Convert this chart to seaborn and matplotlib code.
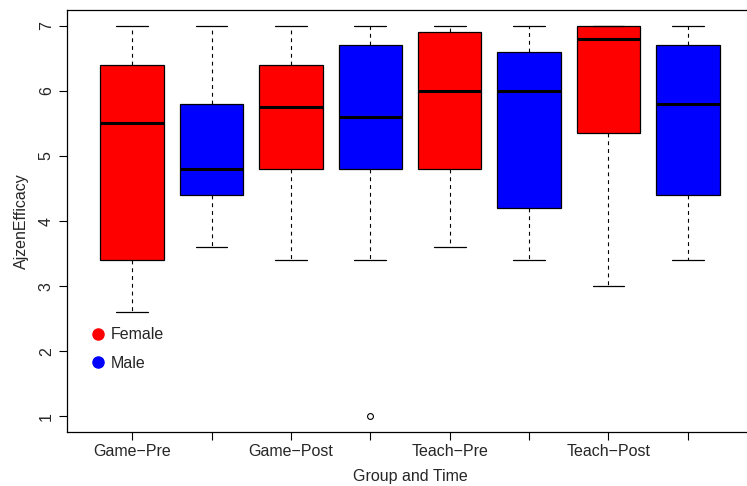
import numpy as np
import matplotlib
matplotlib.use("Agg")
import matplotlib.pyplot as plt
import seaborn as sns
from matplotlib.lines import Line2D

# ---- data ----
groups = ["Game−Pre", "Game−Pre", "Game−Post", "Game−Post",
          "Teach−Pre", "Teach−Pre", "Teach−Post", "Teach−Post"]
genders = ["Female", "Male", "Female", "Male", "Female", "Male", "Female", "Male"]
whisker_low = [2.6, 3.6, 3.4, 3.4, 3.6, 3.4, 3.0, 3.4]
q1 = [3.4, 4.4, 4.8, 4.8, 4.8, 4.2, 5.35, 4.4]
median = [5.5, 4.8, 5.75, 5.6, 6.0, 6.0, 6.8, 5.8]
q3 = [6.4, 5.8, 6.4, 6.7, 6.9, 6.6, 7.0, 6.7]
whisker_high = [7.0, 7.0, 7.0, 7.0, 7.0, 7.0, 7.0, 7.0]
outliers = [[], [], [], [1.0], [], [], [], []]
tick_labels = ["Game−Pre", "", "Game−Post", "", "Teach−Pre", "", "Teach−Post", ""]
y_ticks = [1, 2, 3, 4, 5, 6, 7]
gender_colors = {"Female": "#FF0000", "Male": "#0000FF"}

sns.set_style("white")
plt.rcParams["font.family"] = ["Liberation Sans", "DejaVu Sans"]

fig = plt.figure(figsize=(7.47, 4.86), dpi=100)
ax = fig.add_axes([67 / 747, 54 / 486, 686 / 747, 422 / 486])

stats = []
for i in range(len(groups)):
    stats.append(dict(med=median[i], q1=q1[i], q3=q3[i],
                      whislo=whisker_low[i], whishi=whisker_high[i],
                      fliers=np.array(outliers[i]), label=tick_labels[i]))

positions = np.arange(1, len(groups) + 1)
bp = ax.bxp(stats, positions=positions, widths=0.8, capwidths=0.4,
            patch_artist=True, showfliers=True,
            boxprops=dict(edgecolor="black", linewidth=0.9),
            medianprops=dict(color="black", linewidth=2.2, solid_capstyle="butt"),
            whiskerprops=dict(color="black", linewidth=0.8, linestyle=(0, (3.5, 3.5))),
            capprops=dict(color="black", linewidth=0.9),
            flierprops=dict(marker="o", markersize=4.2, markerfacecolor="none",
                            markeredgecolor="black", markeredgewidth=0.8))
for patch, g in zip(bp["boxes"], genders):
    patch.set_facecolor(gender_colors[g])

ax.set_xlim(0.18, 8.82)
ax.set_ylim(0.76, 7.24)
ax.set_xticks(positions)
ax.set_xticklabels(tick_labels, fontsize=11.5)
ax.set_yticks(y_ticks)
ax.set_yticklabels([str(v) for v in y_ticks], fontsize=11.5, rotation=90, va="center")
ax.tick_params(axis="both", direction="out", length=5.5, width=0.8, color="black",
               bottom=True, left=True, pad=4)
ax.tick_params(axis="x", pad=3)
for s in ax.spines.values():
    s.set_color("black")
    s.set_linewidth(0.9)
ax.grid(False)

ax.set_xlabel("Group and Time", fontsize=11.5, labelpad=7)
ax.set_ylabel("AjzenEfficacy", fontsize=11.5, labelpad=7)

handles = [Line2D([], [], marker="o", linestyle="none", markersize=8,
                  markerfacecolor=gender_colors[g], markeredgecolor=gender_colors[g])
           for g in ["Female", "Male"]]
ax.legend(handles, ["Female", "Male"], loc="upper left",
          bbox_to_anchor=(0.027, 0.263), frameon=False, fontsize=11.5,
          handlelength=0.8, handletextpad=0.35, labelspacing=0.85,
          borderaxespad=0.0)

fig.savefig("out.png", dpi=100)
